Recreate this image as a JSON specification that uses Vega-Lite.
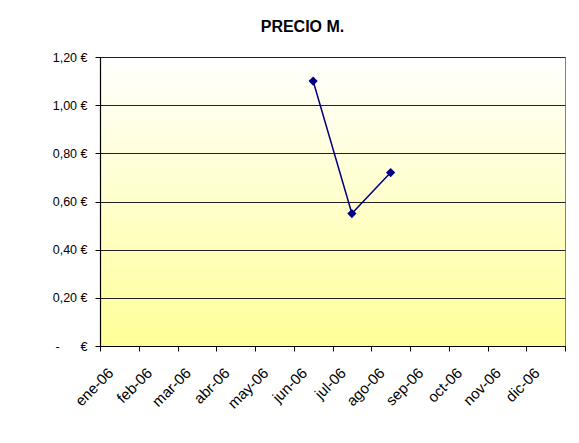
{
  "$schema": "https://vega.github.io/schema/vega-lite/v6.json",
  "autosize": "none",
  "width": 465,
  "height": 289,
  "padding": {"left": 100, "top": 57, "right": 14, "bottom": 97},
  "background": "white",
  "title": {
    "text": "PRECIO M.",
    "font": "Liberation Sans",
    "fontSize": 16,
    "fontWeight": "bold",
    "color": "black",
    "anchor": "middle",
    "dx": -30,
    "baseline": "alphabetic",
    "offset": 3
  },
  "config": {
    "view": {
      "stroke": "#808080",
      "strokeWidth": 1,
      "fill": {
        "gradient": "linear",
        "x1": 0, "y1": 0, "x2": 0, "y2": 1,
        "stops": [
          {"offset": 0, "color": "#FFFFFF"},
          {"offset": 1, "color": "#FFFF99"}
        ]
      }
    },
    "font": "Liberation Sans",
    "axis": {
      "labelFont": "Liberation Sans",
      "labelColor": "black",
      "domainColor": "black",
      "tickColor": "black",
      "tickSize": 5,
      "title": null
    }
  },
  "data": {
    "values": [
      {"mes": "ene-06", "precio": null},
      {"mes": "feb-06", "precio": null},
      {"mes": "mar-06", "precio": null},
      {"mes": "abr-06", "precio": null},
      {"mes": "may-06", "precio": null},
      {"mes": "jun-06", "precio": 1.10},
      {"mes": "jul-06", "precio": 0.55},
      {"mes": "ago-06", "precio": 0.72},
      {"mes": "sep-06", "precio": null},
      {"mes": "oct-06", "precio": null},
      {"mes": "nov-06", "precio": null},
      {"mes": "dic-06", "precio": null}
    ]
  },
  "layer": [
    {
      "mark": {"type": "line", "color": "#000080", "strokeWidth": 1.5},
      "encoding": {
        "x": {
          "field": "mes",
          "type": "ordinal",
          "sort": null,
          "scale": {
            "type": "band",
            "paddingInner": 0,
            "paddingOuter": 0,
            "domain": ["ene-06","feb-06","mar-06","abr-06","may-06","jun-06","jul-06","ago-06","sep-06","oct-06","nov-06","dic-06"]
          },
          "axis": {
            "labelAngle": -45,
            "tickBand": "extent",
            "labelFontSize": 15,
            "labelPadding": 19,
            "labelOffset": -9,
            "labelAlign": "right",
            "labelBaseline": "middle",
            "grid": false,
            "domainWidth": 1.2
          }
        },
        "y": {
          "field": "precio",
          "type": "quantitative",
          "scale": {"domain": [0, 1.2], "nice": false, "zero": true},
          "axis": {
            "values": [0, 0.2, 0.4, 0.6, 0.8, 1.0, 1.2],
            "labelExpr": "datum.value == 0 ? '-\u00a0\u00a0\u00a0\u00a0\u00a0\u00a0€' : replace(format(datum.value, '.2f'), '.', ',') + '\u00a0€'",
            "labelFontSize": 12.5,
            "grid": true,
            "gridColor": "#222222",
            "gridWidth": 1,
            "gridOpacity": 1,
            "labelPadding": 8,
            "domainWidth": 1.2
          }
        }
      }
    },
    {
      "mark": {"type": "point", "shape": "diamond", "filled": true, "color": "#000080", "opacity": 1, "size": 85},
      "encoding": {
        "x": {"field": "mes", "type": "ordinal", "sort": null},
        "y": {"field": "precio", "type": "quantitative"}
      }
    }
  ]
}
